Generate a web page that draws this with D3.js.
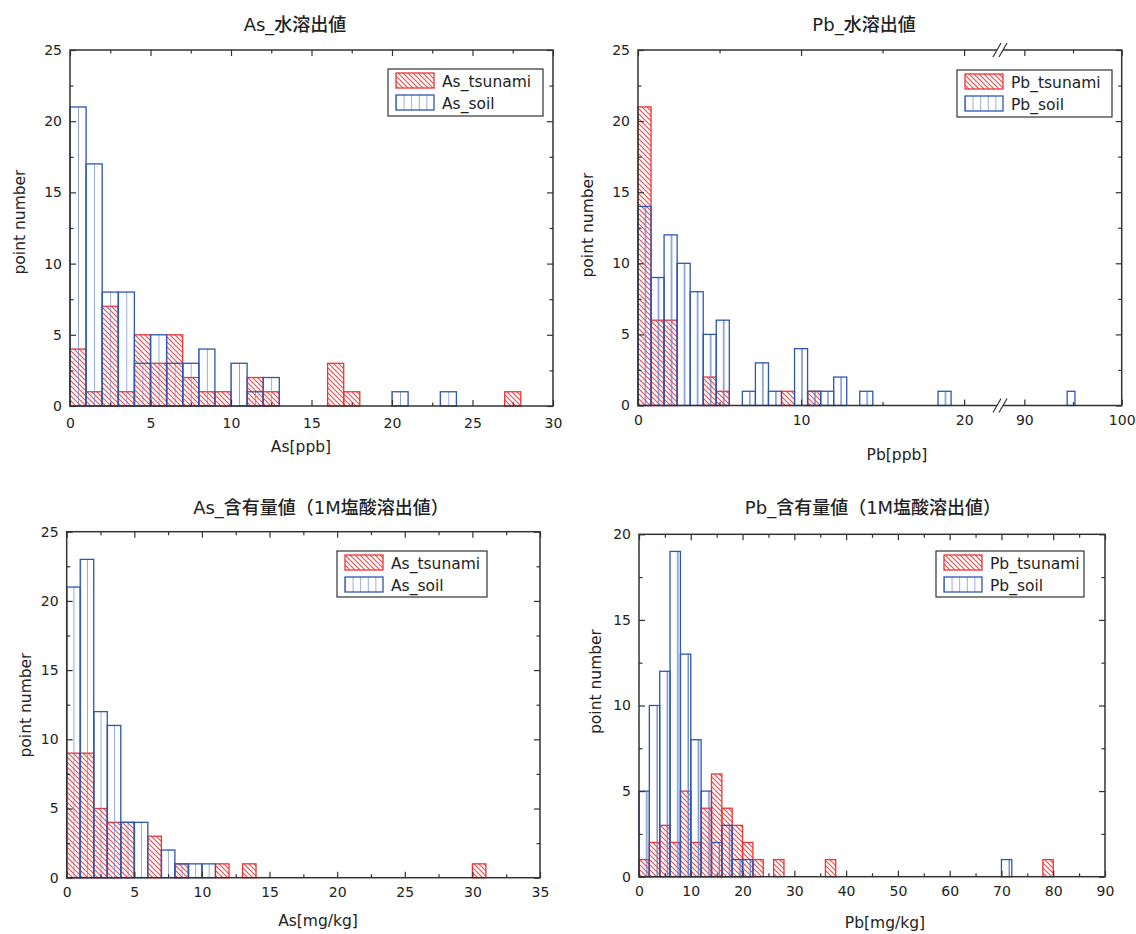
<!DOCTYPE html>
<meta charset="utf-8">
<style>
body { margin: 0; background: white; }
text { font-family: "DejaVu Sans", "Noto Sans CJK JP", sans-serif; fill: #222; }
.tick line { stroke: #333; stroke-width: 1.2; }
.tick text { font-size: 14px; }
</style>
<script src="https://cdn.jsdelivr.net/npm/d3@7"></script>
<body>
<script>
// As 水溶出値 (bin 1 ppb)
const asWaterTsunamiX = [0, 1, 2, 3, 4, 5, 6, 7, 8, 9, 11, 12, 16, 17, 27];
const asWaterTsunami  = [4, 1, 7, 1, 5, 3, 5, 2, 1, 1, 2, 1, 3, 1, 1];
const asWaterSoilX    = [0, 1, 2, 3, 4, 5, 6, 7, 8, 10, 11, 12, 20, 23];
const asWaterSoil     = [21, 17, 8, 8, 3, 5, 3, 3, 4, 3, 1, 2, 1, 1];

// Pb 水溶出値 (bin 0.8 ppb)
const pbWaterTsunamiX = [0, 0.8, 1.6, 4.0, 4.8, 8.8, 10.4];
const pbWaterTsunami  = [21, 6, 6, 2, 1, 1, 1];
const pbWaterSoilX    = [0, 0.8, 1.6, 2.4, 3.2, 4.0, 4.8, 6.4, 7.2, 8.0, 9.6, 10.4, 11.2, 12.0, 13.6, 18.4, 94.4];
const pbWaterSoil     = [14, 9, 12, 10, 8, 5, 6, 1, 3, 1, 4, 1, 1, 2, 1, 1, 1];

// As 含有量値 (bin 1 mg/kg)
const asHclTsunamiX = [0, 1, 2, 3, 4, 6, 8, 11, 13, 30];
const asHclTsunami  = [9, 9, 5, 4, 4, 3, 1, 1, 1, 1];
const asHclSoilX    = [0, 1, 2, 3, 4, 5, 7, 8, 9, 10];
const asHclSoil     = [21, 23, 12, 11, 4, 4, 2, 1, 1, 1];

// Pb 含有量値 (bin 2 mg/kg)
const pbHclTsunamiX = [0, 2, 4, 6, 8, 10, 12, 14, 16, 18, 20, 22, 26, 36, 78];
const pbHclTsunami  = [1, 2, 3, 2, 5, 2, 4, 6, 4, 3, 2, 1, 1, 1, 1];
const pbHclSoilX    = [0, 2, 4, 6, 8, 10, 12, 14, 16, 18, 20, 70];
const pbHclSoil     = [5, 10, 12, 19, 13, 8, 5, 2, 3, 1, 1, 1];

const RED = '#ec3535', RED_HATCH = '#ef4a4a';
const BLUE = '#2d56b3', BLUE_LINE = '#6282cc';

const svg = d3.select('body').append('svg')
  .attr('width', 1136).attr('height', 934);
const defs = svg.append('defs');

// red "\\\\" hatch
const hs = 5;
defs.append('pattern')
    .attr('id', 'hatch')
    .attr('patternUnits', 'userSpaceOnUse')
    .attr('width', hs).attr('height', hs)
  .append('path')
    .attr('d', `M0,0L${hs},${hs}M-1,${hs - 1}L1,${hs + 1}M${hs - 1},-1L${hs + 1},1`)
    .attr('stroke', RED_HATCH).attr('stroke-width', 1.1);

function vpattern(id, w, off, x0) {
  defs.append('pattern')
      .attr('id', id)
      .attr('patternUnits', 'userSpaceOnUse')
      .attr('x', x0).attr('y', 0)
      .attr('width', w).attr('height', 10)
    .append('line')
      .attr('x1', off).attr('x2', off)
      .attr('y1', 0).attr('y2', 10)
      .attr('stroke', BLUE_LINE).attr('stroke-width', 1.3);
}

function zip(xs, ns) { return xs.map((x, i) => ({x: x, n: ns[i]})); }

function panel(c) {
  const g = svg.append('g');
  const x = d3.scaleLinear().domain(c.xDomain).range(c.xRange);
  const y = d3.scaleLinear().domain([0, c.yMax]).range([c.bottom, c.top]);
  const left = c.xRange[0], right = c.xRange[c.xRange.length - 1];

  // soil pattern aligned to bins
  const binPx = x(c.bin) - x(0);
  vpattern(c.id + 'soil', binPx * c.lineStep, binPx * c.lineStep * c.lineOff, x(0));
  vpattern(c.id + 'leg', 7.6, 0, c.legend[0] + 8);

  const bar = (sel, fill, stroke) => sel
      .attr('x', d => x(d.x))
      .attr('width', d => x(d.x + c.bin) - x(d.x))
      .attr('y', d => y(d.n))
      .attr('height', d => y(0) - y(d.n))
      .attr('fill', fill)
      .attr('stroke', stroke)
      .attr('stroke-width', 1.3);

  g.selectAll('rect.t').data(c.tsunami).enter().append('rect').attr('class', 't')
    .call(bar, 'url(#hatch)', RED);
  g.selectAll('rect.s').data(c.soil).enter().append('rect').attr('class', 's')
    .call(bar, `url(#${c.id}soil)`, BLUE);

  // axes, ticks pointing inward on all four sides
  const major = c.xMajor, minor = c.xMinor;
  const yMajor = d3.range(0, c.yMax + 0.1, 5), yMinor = d3.range(2.5, c.yMax, 5);
  g.append('g').attr('transform', `translate(0,${c.bottom})`)
    .call(d3.axisBottom(x).tickValues(major).tickSize(-6).tickPadding(c.xPad).tickFormat(d3.format('d')));
  g.append('g').attr('transform', `translate(0,${c.bottom})`)
    .call(d3.axisBottom(x).tickValues(minor).tickSize(-3.5).tickFormat(''));
  g.append('g').attr('transform', `translate(0,${c.top})`)
    .call(d3.axisTop(x).tickValues(major).tickSize(-6).tickFormat(''));
  g.append('g').attr('transform', `translate(0,${c.top})`)
    .call(d3.axisTop(x).tickValues(minor).tickSize(-3.5).tickFormat(''));
  g.append('g').attr('transform', `translate(${left},0)`)
    .call(d3.axisLeft(y).tickValues(yMajor).tickSize(-6).tickPadding(8));
  g.append('g').attr('transform', `translate(${left},0)`)
    .call(d3.axisLeft(y).tickValues(yMinor).tickSize(-3.5).tickFormat(''));
  g.append('g').attr('transform', `translate(${right},0)`)
    .call(d3.axisRight(y).tickValues(yMajor).tickSize(-6).tickFormat(''));
  g.append('g').attr('transform', `translate(${right},0)`)
    .call(d3.axisRight(y).tickValues(yMinor).tickSize(-3.5).tickFormat(''));
  g.selectAll('.domain').remove();

  g.append('rect')
    .attr('x', left).attr('y', c.top)
    .attr('width', right - left).attr('height', c.bottom - c.top)
    .attr('fill', 'none').attr('stroke', '#333').attr('stroke-width', 1.5);

  if (c.breakAt) {
    const bx = c.breakAt;
    [c.top, c.bottom].forEach(yy => {
      g.append('rect').attr('x', bx - 3).attr('y', yy - 2).attr('width', 6).attr('height', 4).attr('fill', 'white');
      [-3, 3].forEach(dx => g.append('line')
        .attr('x1', bx + dx - 4).attr('y1', yy + 7)
        .attr('x2', bx + dx + 4).attr('y2', yy - 7)
        .attr('stroke', '#333').attr('stroke-width', 1.2));
    });
  }

  // titles and labels
  g.append('text').attr('x', c.title[1]).attr('y', c.title[2])
    .attr('text-anchor', 'middle').style('font-size', '18px').style('font-weight', 500).text(c.title[0]);
  g.append('text').attr('x', c.xLabel[1]).attr('y', c.xLabel[2])
    .attr('text-anchor', 'middle').style('font-size', '15.5px').text(c.xLabel[0]);
  g.append('text')
    .attr('transform', `translate(${c.yLabel[0]},${c.yLabel[1]}) rotate(-90)`)
    .attr('text-anchor', 'middle').attr('dy', '0.35em')
    .style('font-size', '15.5px').text('point number');

  // legend
  const [lx, ly, lw, lh] = c.legend;
  const lg = g.append('g');
  lg.append('rect').attr('x', lx).attr('y', ly).attr('width', lw).attr('height', lh)
    .attr('fill', 'white').attr('stroke', '#333').attr('stroke-width', 1.2);
  const items = [
    {name: c.names[0], fill: 'url(#hatch)', stroke: RED},
    {name: c.names[1], fill: `url(#${c.id}leg)`, stroke: BLUE}
  ];
  items.forEach((it, i) => {
    lg.append('rect').attr('x', lx + 8).attr('y', ly + 4 + i * 22)
      .attr('width', 38).attr('height', 15)
      .attr('fill', it.fill).attr('stroke', it.stroke).attr('stroke-width', 1.3);
    lg.append('text').attr('x', lx + 54).attr('y', ly + 18 + i * 22)
      .style('font-size', '15.5px').text(it.name);
  });
}

panel({
  id: 'p1', bin: 1, yMax: 25,
  xDomain: [0, 30], xRange: [70, 553], top: 50, bottom: 406,
  xMajor: [0, 5, 10, 15, 20, 25, 30], xMinor: d3.range(2.5, 30, 5), xPad: 12,
  tsunami: zip(asWaterTsunamiX, asWaterTsunami), soil: zip(asWaterSoilX, asWaterSoil),
  lineStep: 0.5, lineOff: 0,
  title: ['As_水溶出値', 295, 31], xLabel: ['As[ppb]', 301, 452], yLabel: [19.5, 222],
  legend: [388, 69, 155, 47], names: ['As_tsunami', 'As_soil']
});

panel({
  id: 'p2', bin: 0.8, yMax: 25,
  xDomain: [0, 22.2, 87.5, 100], xRange: [638, 1000, 1000, 1121.7], top: 50, bottom: 405.5,
  xMajor: [0, 10, 20, 90, 100], xMinor: [5, 15, 95], xPad: 10,
  tsunami: zip(pbWaterTsunamiX, pbWaterTsunami), soil: zip(pbWaterSoilX, pbWaterSoil),
  lineStep: 1, lineOff: 0.57, breakAt: 1000,
  title: ['Pb_水溶出値', 864, 31], xLabel: ['Pb[ppb]', 897, 460], yLabel: [587.5, 225],
  legend: [957, 70, 155, 47], names: ['Pb_tsunami', 'Pb_soil']
});

panel({
  id: 'p3', bin: 1, yMax: 25,
  xDomain: [0, 35], xRange: [66.7, 540], top: 531.7, bottom: 877.7,
  xMajor: d3.range(0, 36, 5), xMinor: d3.range(2.5, 35, 5), xPad: 9,
  tsunami: zip(asHclTsunamiX, asHclTsunami), soil: zip(asHclSoilX, asHclSoil),
  lineStep: 0.5, lineOff: 0,
  title: ['As_含有量値（1M塩酸溶出値）', 321, 514], xLabel: ['As[mg/kg]', 318, 926], yLabel: [26, 705],
  legend: [337, 551, 150, 46], names: ['As_tsunami', 'As_soil']
});

panel({
  id: 'p4', bin: 2, yMax: 20,
  xDomain: [0, 90], xRange: [639, 1105], top: 534.3, bottom: 876.7,
  xMajor: d3.range(0, 91, 10), xMinor: d3.range(5, 90, 10), xPad: 9,
  tsunami: zip(pbHclTsunamiX, pbHclTsunami), soil: zip(pbHclSoilX, pbHclSoil),
  lineStep: 1, lineOff: 0.75,
  title: ['Pb_含有量値（1M塩酸溶出値）', 873, 514], xLabel: ['Pb[mg/kg]', 885, 928], yLabel: [596, 681.5],
  legend: [936, 551, 148, 46], names: ['Pb_tsunami', 'Pb_soil']
});
</script>
</body>
</html>
